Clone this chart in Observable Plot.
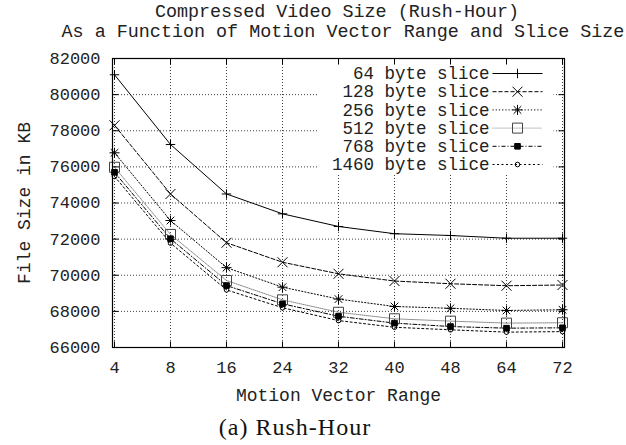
<!DOCTYPE html>
<html>
<head>
<meta charset="utf-8">
<script src="https://cdn.jsdelivr.net/npm/d3@7"></script>
<script src="https://cdn.jsdelivr.net/npm/@observablehq/plot@0.6"></script>
<style>
  body { margin: 0; background: #fff; }
  #wrap { width: 626px; height: 445px; overflow: hidden; background: #fff; }
  .title { font-family: "Liberation Mono", monospace; font-size: 18.4px; color: #222; padding: 3px 0 3px 0; height: 40px; }
  .title div { line-height: 20px; white-space: nowrap; text-align: center; }
  .caption { font-family: "Liberation Serif", serif; font-size: 24px; letter-spacing: 1px; color: #111; height: 35px; line-height: 35px; text-align: center; padding-right: 36px; white-space: nowrap; }
</style>
</head>
<body>
<div id="wrap">
  <div class="title">
    <div style="padding-left:48px">Compressed Video Size (Rush-Hour)</div>
    <div style="padding-left:60px">As a Function of Motion Vector Range and Slice Size</div>
  </div>
  <div id="chart"></div>
  <div class="caption">(a) Rush-Hour</div>
</div>
<script>
// ---- data ----
const mvRange = ["4", "8", "16", "24", "32", "40", "48", "64", "72"];
const sliceLabels = ["64 byte slice", "128 byte slice", "256 byte slice", "512 byte slice", "768 byte slice", "1460 byte slice"];
const size64   = [81100, 77240, 74500, 73400, 72700, 72300, 72200, 72050, 72050];
const size128  = [78300, 74500, 71800, 70720, 70080, 69680, 69530, 69420, 69460];
const size256  = [76780, 73030, 70420, 69340, 68680, 68270, 68170, 68050, 68090];
const size512  = [75980, 72260, 69710, 68640, 67950, 67590, 67460, 67350, 67370];
const size768  = [75700, 72020, 69430, 68420, 67730, 67350, 67160, 67070, 67090];
const size1460 = [75470, 71780, 69190, 68200, 67490, 67120, 66980, 66850, 66880];
const yTickValues = [66000, 68000, 70000, 72000, 74000, 76000, 78000, 80000, 82000];

const seriesValues = [size64, size128, size256, size512, size768, size1460];

// ---- symbols / styles ----
const seg = (x1, y1, x2, y2) => ({draw(c) { c.moveTo(x1, y1); c.lineTo(x2, y2); }});
const symPlus = {draw(c) { const r = 4.7; c.moveTo(-r, 0); c.lineTo(r, 0); c.moveTo(0, -r); c.lineTo(0, r); }};
const symTimes = {draw(c) { const r = 5; c.moveTo(-r, -r); c.lineTo(r, r); c.moveTo(-r, r); c.lineTo(r, -r); }};
const symStar = {draw(c) { const r = 5, d = 3.8; c.moveTo(-r, 0); c.lineTo(r, 0); c.moveTo(0, -r); c.lineTo(0, r); c.moveTo(-d, -d); c.lineTo(d, d); c.moveTo(-d, d); c.lineTo(d, -d); }};
const symSquare = {draw(c) { const h = 5; c.rect(-h, -h, 2 * h, 2 * h); }};
const symFilled = {draw(c) { const h = 2.8; c.rect(-h, -h, 2 * h, 2 * h); }};
const symCircle = {draw(c) { c.moveTo(2.3, 0); c.arc(0, 0, 2.3, 0, 2 * Math.PI); }};

const styles = [
  {stroke: "#000", dash: null, sym: symPlus, fill: "none", mstroke: "#000"},
  {stroke: "#000", dash: "4,2", sym: symTimes, fill: "none", mstroke: "#000"},
  {stroke: "#000", dash: "1.2,2", sym: symStar, fill: "none", mstroke: "#000"},
  {stroke: "#888", dash: "1,1", sym: symSquare, fill: "none", mstroke: "#444"},
  {stroke: "#000", dash: "4,2,1,2", sym: symFilled, fill: "#000", mstroke: "#000"},
  {stroke: "#000", dash: "2,2.5", sym: symCircle, fill: "none", mstroke: "#000"}
];

const mono = "Liberation Mono, monospace";
const marks = [];

// grid
marks.push(Plot.gridY(yTickValues, {stroke: "#000", strokeOpacity: 0.75, strokeDasharray: "1,2", strokeWidth: 1}));
marks.push(Plot.gridX(mvRange, {stroke: "#000", strokeOpacity: 0.75, strokeDasharray: "1,2", strokeWidth: 1}));

// legend background box
marks.push(Plot.dot([0], {frameAnchor: "top-right", symbol: {draw(c) { c.rect(-247, 5, 236, 110); }}, fill: "white", stroke: "none"}));

// data
seriesValues.forEach((vals, i) => {
  const st = styles[i];
  const rows = mvRange.map((m, j) => ({m, v: vals[j]}));
  marks.push(Plot.line(rows, {x: "m", y: "v", stroke: st.stroke, strokeWidth: 1, strokeDasharray: st.dash}));
});
seriesValues.forEach((vals, i) => {
  const st = styles[i];
  const rows = mvRange.map((m, j) => ({m, v: vals[j]}));
  marks.push(Plot.dot(rows, {x: "m", y: "v", symbol: st.sym, stroke: st.mstroke, fill: st.fill, strokeWidth: 1}));
});

// legend entries
sliceLabels.forEach((lab, i) => {
  const st = styles[i];
  const dy = 15 + 18.2 * i;
  marks.push(Plot.text([lab], {text: d => d, frameAnchor: "top-right", dx: -75, dy, textAnchor: "end", lineAnchor: "middle", fontSize: 17.5, fill: "#222"}));
  marks.push(Plot.dot([0], {frameAnchor: "top-right", dx: -47, dy, symbol: seg(-25, 0, 25, 0), stroke: st.stroke, strokeDasharray: st.dash, strokeWidth: 1, fill: "none"}));
  marks.push(Plot.dot([0], {frameAnchor: "top-right", dx: -47, dy, symbol: st.sym, stroke: st.mstroke, fill: st.fill, strokeWidth: 1}));
});

// frame and inward ticks
marks.push(Plot.frame({stroke: "#000", strokeWidth: 1.2}));
marks.push(Plot.dot(yTickValues, {y: d => d, frameAnchor: "left", symbol: seg(0, 0, 6, 0), stroke: "#000", fill: "none", strokeWidth: 1}));
marks.push(Plot.dot(yTickValues, {y: d => d, frameAnchor: "right", symbol: seg(0, 0, -6, 0), stroke: "#000", fill: "none", strokeWidth: 1}));
marks.push(Plot.dot(mvRange, {x: d => d, frameAnchor: "bottom", symbol: seg(0, 0, 0, -6), stroke: "#000", fill: "none", strokeWidth: 1}));
marks.push(Plot.dot(mvRange, {x: d => d, frameAnchor: "top", symbol: seg(0, 0, 0, 6), stroke: "#000", fill: "none", strokeWidth: 1}));

// axes labels
marks.push(Plot.axisY(yTickValues, {tickSize: 0, tickPadding: 12, fontSize: 17, label: null, fill: "#222", tickFormat: d3.format("d")}));
marks.push(Plot.axisX(mvRange, {tickSize: 0, tickPadding: 13, fontSize: 17, label: null, fill: "#222"}));
marks.push(Plot.text(["Motion Vector Range"], {text: d => d, frameAnchor: "bottom", dy: 48, lineAnchor: "middle", textAnchor: "middle", fontSize: 18, fill: "#222"}));
marks.push(Plot.text(["File Size in KB"], {text: d => d, frameAnchor: "left", dx: -88, rotate: -90, lineAnchor: "middle", textAnchor: "middle", fontSize: 18, fill: "#222"}));

const chart = Plot.plot({
  width: 626,
  height: 364,
  marginTop: 12,
  marginBottom: 63,
  marginLeft: 112,
  marginRight: 62,
  style: {fontFamily: mono, background: "white", overflow: "visible", color: "#222"},
  x: {type: "point", domain: mvRange, padding: 0},
  y: {domain: [66000, 82000]},
  marks
});
document.getElementById("chart").appendChild(chart);
</script>
</body>
</html>
